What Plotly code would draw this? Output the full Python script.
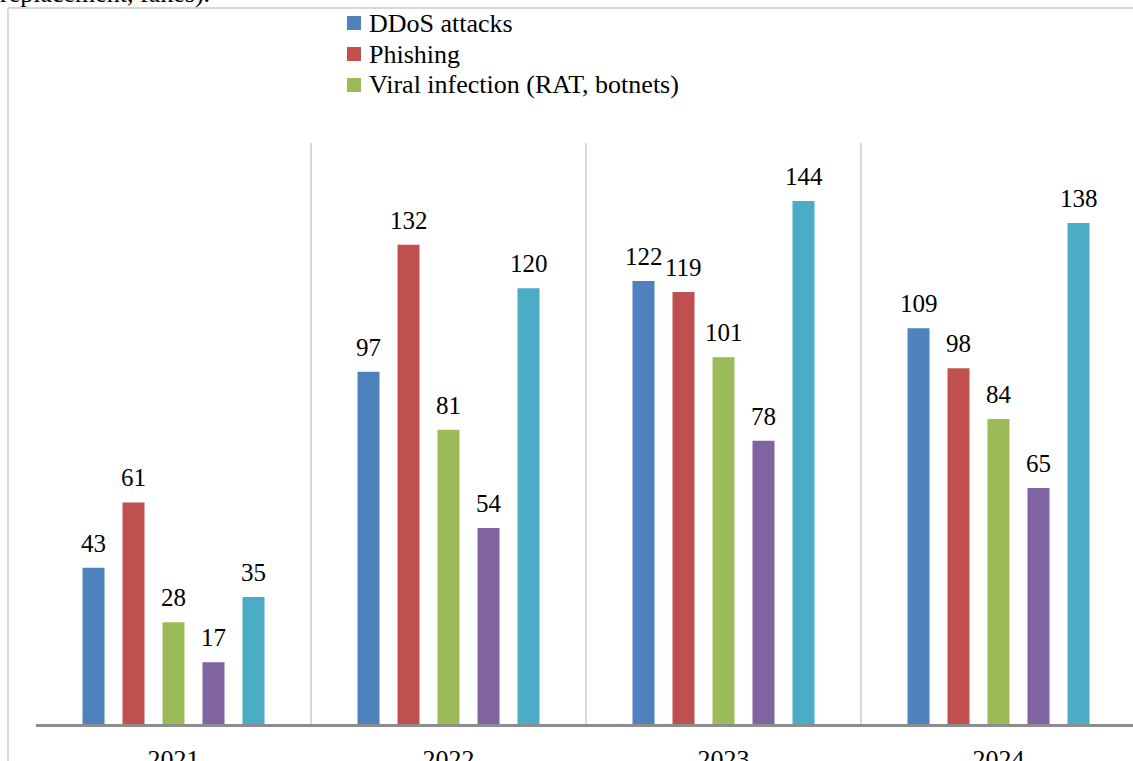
import plotly.graph_objects as go

years = ["2021", "2022", "2023", "2024"]
series_names = ["DDoS attacks", "Phishing", "Viral infection (RAT, botnets)", "Series 4", "Series 5"]
ddos = [43, 97, 122, 109]
phishing = [61, 132, 119, 98]
viral = [28, 81, 101, 84]
series4 = [17, 54, 78, 65]
series5 = [35, 120, 144, 138]
show_in_legend = [True, True, True, False, False]
colors = ["#4F81BD", "#C0504D", "#9BBB59", "#8064A2", "#4BACC6"]

all_values = [ddos, phishing, viral, series4, series5]
FONT = "Liberation Serif"

W, H = 1133, 761
ML, MT, MB = 36, 143, 37
plot_w = W - ML
plot_h = H - MT - MB
cat_px = 275.0
x_hi = -0.5 + plot_w / cat_px

fig = go.Figure()
for name, vals, col in zip(series_names, all_values, colors):
    fig.add_trace(go.Bar(
        x=years, y=vals, name=name, marker=dict(color=col, line=dict(width=0)),
        showlegend=False,
    ))

# data labels above bars
slot_px = 40
n = len(all_values)
for i, vals in enumerate(all_values):
    for j, v in enumerate(vals):
        fig.add_annotation(
            x=j, y=v, xref="x", yref="y", text=str(v), showarrow=False,
            xshift=(i - (n - 1) / 2) * slot_px, yshift=9, yanchor="bottom",
            font=dict(family=FONT, size=25, color="#000000"),
        )

# custom legend (only the first three entries are shown in the reference)
leg_x, leg_y0, leg_dy = 347, 16, 31
k = 0
for name, col, sl in zip(series_names, colors, show_in_legend):
    if not sl:
        continue
    top = leg_y0 + k * leg_dy
    fig.add_shape(
        type="rect", xref="paper", yref="paper",
        x0=(leg_x - ML) / plot_w, x1=(leg_x + 14 - ML) / plot_w,
        y0=1 + (MT - top - 14) / plot_h, y1=1 + (MT - top) / plot_h,
        fillcolor=col, line=dict(width=0),
    )
    fig.add_annotation(
        xref="paper", yref="paper", x=(leg_x + 20 - ML) / plot_w,
        y=1 + (MT - top - 7) / plot_h, xanchor="left", yanchor="middle",
        text=name, showarrow=False, font=dict(family=FONT, size=26, color="#000000"),
    )
    k += 1

# cropped caption text from the page above
fig.add_annotation(
    xref="paper", yref="paper", x=(212 - ML) / plot_w, y=1 + (MT - 3) / plot_h,
    xanchor="right", yanchor="bottom", yshift=-7, text="replacement, fakes).",
    showarrow=False, font=dict(family=FONT, size=26, color="#000000"),
)

# outer chart frame
fx = (8 - ML) / plot_w
fy = 1 + (MT - 8) / plot_h
fig.add_shape(type="line", xref="paper", yref="paper", x0=fx, x1=fx, y0=fy, y1=-MB / plot_h - 0.01,
              line=dict(color="#D9D9D9", width=2))
fig.add_shape(type="line", xref="paper", yref="paper", x0=fx, x1=1.05, y0=fy, y1=fy,
              line=dict(color="#D9D9D9", width=2))

fig.update_layout(
    width=W, height=H,
    margin=dict(l=ML, r=0, t=MT, b=MB, autoexpand=False),
    paper_bgcolor="white", plot_bgcolor="white",
    barmode="group", bargap=75 / 275, bargroupgap=18 / 40,
    font=dict(family=FONT, size=22, color="#000000"),
    showlegend=False,
    xaxis=dict(
        type="category", range=[-0.5, x_hi], tickson="boundaries", ticks="",
        showgrid=True, gridcolor="#D9D9D9", gridwidth=2,
        showline=True, linecolor="#8C8C8C", linewidth=3,
        tickfont=dict(family=FONT, size=26, color="#000000"), ticklabelstandoff=10,
        fixedrange=True,
    ),
    yaxis=dict(
        range=[0, 160], showgrid=False, zeroline=False, showticklabels=False,
        ticks="", showline=False, fixedrange=True,
    ),
)

fig.write_html("out.html")
